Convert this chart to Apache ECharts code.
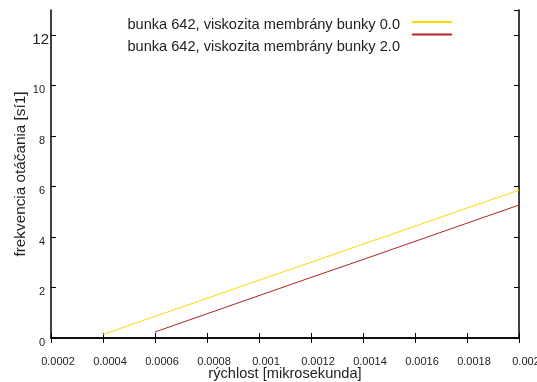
<!DOCTYPE html>
<html>
<head>
<meta charset="utf-8">
<script src="https://cdn.jsdelivr.net/npm/echarts@6/dist/echarts.min.js"></script>
<style>html,body{margin:0;padding:0;background:#fff}#c{width:537px;height:382px}</style>
</head>
<body>
<div id="c"></div>
<script>
var seriesNames = ['bunka 642, viskozita membrány bunky 0.0', 'bunka 642, viskozita membrány bunky 2.0'];
var xVisc0 = [0.0004, 0.0006, 0.0008, 0.0010, 0.0012, 0.0014, 0.0016, 0.0018, 0.0020];
var yVisc0 = [0.14, 0.86, 1.57, 2.29, 3.00, 3.72, 4.43, 5.15, 5.86];
var xVisc2 = [0.0006, 0.0008, 0.0010, 0.0012, 0.0014, 0.0016, 0.0018, 0.0020];
var yVisc2 = [0.24, 0.96, 1.68, 2.40, 3.11, 3.83, 4.55, 5.27];
var xTitle = 'rýchlost [mikrosekunda]';
var yTitle = 'frekvencia otáčania [sí1]';

function pairs(xs, ys) { return xs.map(function (x, i) { return [x, ys[i]]; }); }
var font = 'Liberation Sans, Arial, Helvetica, sans-serif';
var chart = echarts.init(document.getElementById('c'));
var tickStyle = { show: true, inside: true, length: 5, lineStyle: { color: '#000', width: 1 } };
var lineStyleAx = { show: true, lineStyle: { color: '#000', width: 1.5 } };
var xBase = { type: 'value', min: 0.0002, max: 0.002, interval: 0.0002, splitLine: { show: false }, axisLine: lineStyleAx, axisTick: tickStyle };
var yBase = { type: 'value', min: 0, max: 13, interval: 2, splitLine: { show: false }, axisLine: lineStyleAx, axisTick: tickStyle };
chart.setOption({
  animation: false,
  grid: { left: 51, right: 18, top: 10, bottom: 44, containLabel: false, outerBoundsMode: 'none' },
  legend: [
    { data: seriesNames, orient: 'vertical', left: 406, top: 12, align: 'left', itemWidth: 40, itemHeight: 10, itemGap: 3.4,
      selectedMode: false, itemStyle: { opacity: 0 }, formatter: function () { return ''; },
      textStyle: { fontFamily: font, fontSize: 1 } },
    { data: seriesNames, orient: 'vertical', right: 127, top: 12, align: 'right', itemWidth: 0, itemHeight: 14, itemGap: 7,
      selectedMode: false, icon: 'rect', itemStyle: { opacity: 0 }, lineStyle: { opacity: 0 },
      textStyle: { fontFamily: font, fontSize: 14.6, color: '#222' } }
  ],
  xAxis: [
    Object.assign({}, xBase, {
      position: 'bottom', name: xTitle, nameLocation: 'middle', nameGap: 28, nameMoveOverlap: false,
      nameTextStyle: { fontFamily: font, fontSize: 14.6, color: '#222' },
      axisLabel: { fontFamily: font, fontSize: 11, color: '#222', margin: 18, padding: [0, 0, 0, 14],
        formatter: function (v) { return String(parseFloat(v.toFixed(5))); } }
    }),
    Object.assign({}, xBase, { position: 'top', axisLabel: { show: false } })
  ],
  yAxis: [
    Object.assign({}, yBase, {
      position: 'left', name: yTitle, nameLocation: 'middle', nameGap: 23, nameMoveOverlap: false,
      nameTextStyle: { fontFamily: font, fontSize: 15.3, color: '#222' },
      axisLabel: { fontFamily: font, fontSize: 11, color: '#222', margin: 2, verticalAlign: 'top', lineHeight: 9,
        showMaxLabel: false,
        formatter: function (v) { return v === 13 ? '' : (v === 12 ? '{b|12}' : '{n|' + v + '}'); },
        rich: {
          b: { fontFamily: font, fontSize: 15, color: '#222', lineHeight: 9 },
          n: { fontFamily: font, fontSize: 11, color: '#222', lineHeight: 9, padding: [0, 4, 0, 0] }
        } }
    }),
    Object.assign({}, yBase, { position: 'right', axisLabel: { show: false } })
  ],
  series: [
    { name: seriesNames[0], type: 'line', data: pairs(xVisc0, yVisc0), symbol: 'none', showSymbol: false,
      itemStyle: { color: '#ffd700' }, lineStyle: { color: '#ffd700', width: 1 } },
    { name: seriesNames[1], type: 'line', data: pairs(xVisc2, yVisc2), symbol: 'none', showSymbol: false,
      itemStyle: { color: '#b22222' }, lineStyle: { color: '#b22222', width: 1 } }
  ]
});
</script>
</body>
</html>
